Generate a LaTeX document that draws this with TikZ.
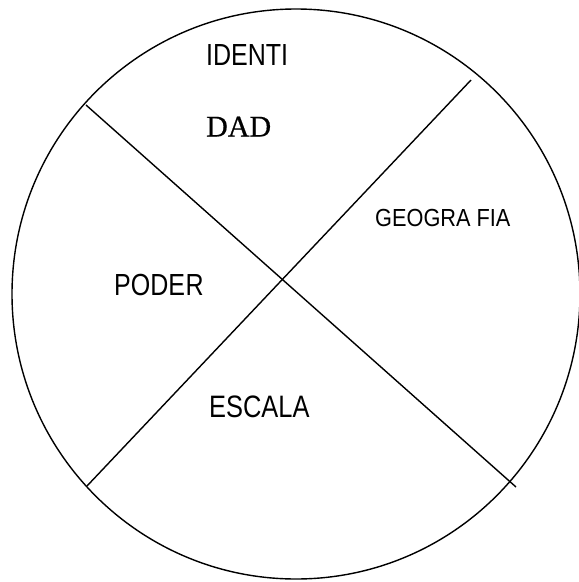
\documentclass[tikz,border=0pt]{standalone}
\usepackage{fontspec}
\usepackage{tikz}
\usetikzlibrary{positioning}
\newfontfamily\narrowsf[FakeStretch=0.82]{Liberation Sans}
\newfontfamily\widersf[FakeStretch=0.88]{Liberation Sans}
\newfontfamily\serifdad[FakeBold=0.6]{Liberation Serif}

\begin{document}
\begin{tikzpicture}[
  x=1pt, y=-1pt,
  sector/.style={inner sep=0pt, anchor=base west, font=\narrowsf\fontsize{30.5}{36}\selectfont},
]

% --- Frame ---
\useasboundingbox (0, 0) rectangle (579, 582);

% --- Circle ---
\draw[line width=1.4pt] (296, 294) ellipse [x radius=284, y radius=285];

% --- Dividing lines ---
\coordinate (nw) at (86, 105);
\coordinate (se) at (516, 487);
\coordinate (ne) at (471, 80);
\coordinate (sw) at (87, 486);
\draw[line width=1.4pt] (nw) -- (se);
\draw[line width=1.4pt] (ne) -- (sw);

% --- Sector labels ---
\node[sector] (identi) at (206, 65) {IDENTI};
\node[inner sep=0pt, anchor=base west, font=\serifdad\fontsize{30}{36}\selectfont] (dad) at (206, 136.5) {DAD};
\node[sector, font=\widersf\fontsize{24.7}{30}\selectfont] (geo) at (375, 226.5) {GEOGRA FIA};
\node[sector] (poder) at (114, 295) {PODE\kern0.5pt R};
\node[sector, font=\narrowsf\fontsize{31}{36}\selectfont] (escala) at (209, 417.3) {ESCALA};

\end{tikzpicture}
\end{document}
